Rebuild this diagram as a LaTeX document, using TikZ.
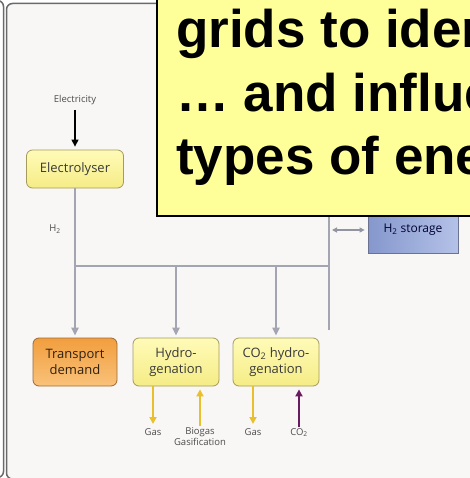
\documentclass[tikz,border=0pt]{standalone}
\usepackage{fontspec}
\setmainfont{Open Sans}
\newfontfamily\folienfont{Liberation Sans}
\usetikzlibrary{arrows.meta}

\definecolor{hgrund}{HTML}{F8F7F5}
\definecolor{rahmen}{HTML}{6A6A6A}
\definecolor{leitgrau}{HTML}{A3A5B3}
\definecolor{gelbhell}{HTML}{FFFBB8}
\definecolor{gelbdunkel}{HTML}{F5EC86}
\definecolor{gelbrand}{HTML}{A49B5C}
\definecolor{orhell}{HTML}{F9C27A}
\definecolor{ordunkel}{HTML}{F29E3E}
\definecolor{orrand}{HTML}{9C6B36}
\definecolor{blauhell}{HTML}{B4C2E8}
\definecolor{blaudunkel}{HTML}{8597CC}
\definecolor{blaurand}{HTML}{6B7390}
\definecolor{gaspfeil}{HTML}{E9C02C}
\definecolor{copfeil}{HTML}{6B1A60}
\definecolor{notiz}{HTML}{FFFF99}
\definecolor{schrift}{HTML}{3A3A3A}

\tikzset{
  kasten/.style={rounded corners=6pt, line width=0.8pt, minimum width=86pt, minimum height=48pt,
    align=center, inner sep=2pt, text=schrift, font=\fontsize{13}{16}\selectfont},
  prozess/.style={kasten, draw=gelbrand, top color=gelbhell, bottom color=gelbdunkel},
  bedarf/.style={kasten, draw=orrand, top color=ordunkel, bottom color=orhell, text=black!75!brown},
  speicherbox/.style={kasten, rounded corners=0pt, draw=blaurand, left color=blaudunkel, right color=blauhell,
    minimum width=90pt, minimum height=46pt, font=\fontsize{12}{14}\selectfont, text=black!80!blue},
  etikett/.style={font=\fontsize{9.5}{11.5}\selectfont, text=black!70, inner sep=1pt, align=center},
  leitung/.style={draw=leitgrau, line width=2pt},
  zu/.style={leitung, -{Triangle[length=8pt,width=7pt]}, shorten >=2pt},
  gaspf/.style={line width=2pt, -{Triangle[length=7pt,width=7pt]}},
  folie/.style={font=\folienfont\fontsize{53}{63}\selectfont\bfseries, inner sep=0pt}
}

\begin{document}
\begin{tikzpicture}[x=1pt,y=-1pt]
  \useasboundingbox (0,0) rectangle (469,478);
  % Hintergrund und Rahmen
  \fill[white] (0,0) rectangle (469,478);
  \fill[hgrund, rounded corners=6pt] (6.5,3.5) rectangle (490,479);
  \draw[rahmen, line width=1.5pt, rounded corners=6pt] (-20,0.5) -- (3.5,0.5) -- (3.5,477.5) -- (-20,477.5);
  \draw[rahmen, line width=1.5pt, rounded corners=6pt] (490,3.5) -- (6.5,3.5) -- (6.5,479) -- (490,479);

  % Kaesten
  \node[etikett] (strom) at (75,100) {Electricity};
  \node[prozess, minimum width=97pt, minimum height=38pt] (elyse) at (75,169) {Electrolyser};
  \node[etikett] (hzwei) at (55,229) {H\textsubscript{2}};
  \node[bedarf, minimum width=84pt] (verkehr) at (75,362) {Transport\\demand};
  \node[prozess] (hydro) at (176,362) {Hydro-\\genation};
  \node[prozess] (cohydro) at (276,362) {CO\textsubscript{2} hydro-\\genation};
  \node[speicherbox] (speicher) at (413,230) {H\textsubscript{2} storage};

  % Wasserstoffleitung
  \draw[line width=1.3pt, -{Triangle[length=7pt,width=7pt]}, shorten <=4pt, shorten >=3pt] (strom) -- (elyse);
  \coordinate (knoten) at (75,266);
  \coordinate (ende) at (329,266);
  \coordinate (oben) at (329,205);
  \coordinate (unten) at (329,330);
  \coordinate (abzweig) at (329,230);
  \draw[zu] (elyse) -- (verkehr);
  \draw[leitung] (knoten) -- (ende);
  \draw[leitung] (oben) -- (unten);
  \draw[zu] (hydro |- knoten) -- (hydro);
  \draw[zu] (cohydro |- knoten) -- (cohydro);
  \draw[draw=leitgrau!90!black, line width=1.2pt, {Triangle[length=5pt,width=5pt]}-{Triangle[length=5pt,width=5pt]},
    shorten <=3pt, shorten >=3pt] (abzweig) -- (speicher);

  % Gas und CO2
  \node[etikett, anchor=north] (gasa) at (153,427) {Gas};
  \node[etikett, anchor=north] (biogas) at (200,426) {Biogas\\Gasification};
  \node[etikett, anchor=north] (gasb) at (253,427) {Gas};
  \node[etikett, anchor=north] (cozwei) at (299,427) {CO\textsubscript{2}};
  \draw[gaspf, gaspfeil, shorten >=3pt] (hydro.south -| gasa) -- (gasa);
  \draw[gaspf, gaspfeil, shorten >=3pt] (biogas) -- (hydro.south -| biogas);
  \draw[gaspf, gaspfeil, shorten >=3pt] (cohydro.south -| gasb) -- (gasb);
  \draw[gaspf, copfeil, shorten >=3pt] (cozwei) -- (cohydro.south -| cozwei);

  % Notizzettel
  \draw[fill=notiz, line width=2pt] (157,-10) rectangle (490,216);
  \begin{scope}
   \clip (158,0) rectangle (469,215);
   \foreach \zeile/\y in {{grids to identify}/48, {… and influence}/112, {types of energy}/175}
    \node[folie, anchor=base west] (zeile\y) at (176,\y) {\zeile};
  \end{scope}
\end{tikzpicture}
\end{document}
